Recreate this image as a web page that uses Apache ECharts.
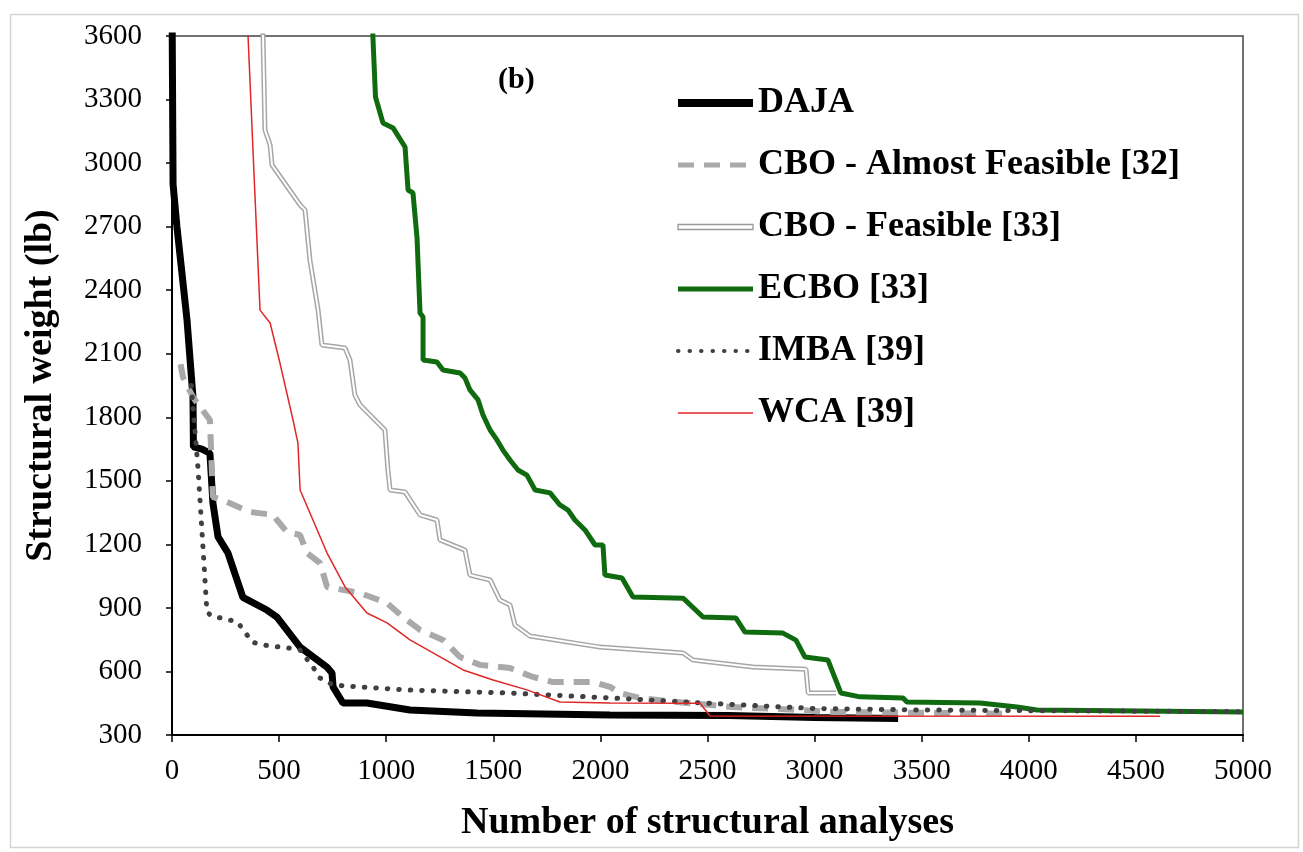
<!DOCTYPE html>
<html>
<head>
<meta charset="utf-8">
<script src="https://cdn.jsdelivr.net/npm/echarts@6/dist/echarts.min.js"></script>
<style>
  html, body { margin: 0; padding: 0; background: #fff; }
  #box { width: 1303px; height: 852px; }
</style>
</head>
<body>
<div id="box"></div>
<script>
// convergence histories: [analyses, weight (lb)]
var daja = [[0,3800],[5,2900],[23,2700],[70,2260],[98,1895],[100,1660],[140,1650],[177,1630],[191,1395],[215,1235],[261,1160],[331,950],[443,890],[490,857],[598,715],[724,620],[747,593],[752,527],[798,451],[910,451],[1111,418],[1424,404],[2045,395],[2600,392],[3000,383],[3390,378]];
var cboAlmost = [[40,2050],[51,1990],[98,1895],[177,1787],[191,1424],[257,1400],[364,1353],[472,1339],[490,1315],[537,1258],[598,1244],[630,1159],[691,1112],[724,999],[798,985],[878,970],[1004,923],[1078,857],[1158,796],[1265,749],[1345,668],[1438,631],[1578,616],[1685,574],[1779,550],[1965,550],[2045,527],[2091,498],[2185,475],[2311,460],[2619,432],[2932,418],[3086,409],[3500,405],[3900,400]];
var cboFeasible = [[420,3700],[425,3600],[434,3156],[458,3085],[467,2991],[598,2802],[621,2779],[644,2542],[682,2306],[700,2141],[808,2127],[831,2070],[854,1905],[878,1858],[994,1740],[1008,1551],[1018,1457],[1088,1447],[1158,1339],[1237,1315],[1251,1221],[1368,1173],[1391,1055],[1485,1032],[1531,937],[1578,914],[1601,819],[1671,767],[1998,715],[2386,687],[2432,654],[2712,621],[2960,610],[2970,498],[3100,498]];
var ecbo = [[935,3700],[938,3595],[950,3312],[985,3189],[1032,3166],[1088,3076],[1102,2873],[1125,2859],[1144,2646],[1158,2292],[1172,2273],[1172,2070],[1237,2061],[1265,2023],[1345,2009],[1368,1985],[1391,1929],[1429,1882],[1452,1811],[1485,1740],[1517,1693],[1545,1645],[1578,1598],[1615,1551],[1657,1527],[1695,1457],[1765,1443],[1811,1386],[1849,1362],[1881,1315],[1928,1268],[1975,1197],[2012,1197],[2021,1055],[2101,1041],[2152,951],[2386,946],[2479,857],[2633,852],[2675,786],[2852,781],[2913,748],[2955,668],[3062,654],[3123,498],[3212,480],[3413,475],[3431,456],[3772,451],[3945,432],[4038,418],[5000,409]];
var imba = [[90,1950],[110,1700],[121,1565],[150,1100],[163,880],[191,857],[250,850],[308,830],[341,786],[373,739],[425,725],[542,711],[598,701],[658,621],[691,569],[752,536],[878,527],[1111,512],[1578,498],[2045,475],[2500,450],[3000,425],[3500,418],[4000,415],[5000,410]];
var wca = [[345,3700],[355,3600],[385,2900],[411,2306],[458,2245],[504,2056],[565,1787],[588,1678],[598,1457],[658,1315],[724,1159],[808,999],[910,876],[1004,829],[1111,749],[1359,607],[1499,560],[1657,513],[1811,456],[2045,451],[2465,450],[2512,390],[4613,388]];

var serif = 'Liberation Serif, Times New Roman, serif';

var chart = echarts.init(document.getElementById('box'));
var option = {
    backgroundColor: '#fff',
    animation: false,
    textStyle: { fontFamily: serif },
    graphic: [
        { type: 'rect', left: 8, top: 12, shape: { width: 1288, height: 833 }, style: { fill: 'none', stroke: '#d4d4d4', lineWidth: 1.5 }, silent: true },
        { type: 'text', left: 498, top: 65, style: { text: '(b)', font: 'bold 30px ' + serif, fill: '#000' } }
    ],
    grid: {
        left: 172, right: 60, top: 36, bottom: 117,
        show: true, borderColor: '#444', borderWidth: 1.5
    },
    legend: {
        orient: 'vertical',
        left: 669, top: 80,
        itemWidth: 75, itemHeight: 14, itemGap: 26,
        itemStyle: { opacity: 0 },
        textStyle: { fontFamily: serif, fontWeight: 'bold', fontSize: 36, color: '#000' },
        data: [
            { name: 'DAJA', lineStyle: { width: 8 } },
            { name: 'CBO - Almost Feasible [32]', lineStyle: { width: 5 } },
            { name: 'CBO - Feasible [33]', icon: 'path://M0,0L75,0L75,5L0,5Z', itemStyle: { opacity: 1, color: '#fff', borderColor: '#999', borderWidth: 1.3 } },
            { name: 'ECBO [33]', lineStyle: { width: 5 } },
            { name: 'IMBA [39]', lineStyle: { width: 4 } },
            { name: 'WCA [39]', lineStyle: { width: 1.5 } }
        ]
    },
    xAxis: {
        type: 'value', min: 0, max: 5000, interval: 500,
        name: 'Number of structural analyses', nameLocation: 'middle', nameGap: 69,
        nameTextStyle: { fontFamily: serif, fontWeight: 'bold', fontSize: 38, color: '#000' },
        axisLine: { lineStyle: { color: '#000', width: 2 } },
        axisTick: { length: 7, lineStyle: { color: '#000', width: 1.5 } },
        axisLabel: { fontFamily: serif, fontSize: 29, color: '#000', margin: 22, formatter: function (v) { return String(v); } },
        splitLine: { show: false }
    },
    yAxis: {
        type: 'value', min: 300, max: 3600, interval: 300,
        name: 'Structural weight (lb)', nameLocation: 'middle', nameGap: 112,
        nameTextStyle: { fontFamily: serif, fontWeight: 'bold', fontSize: 38, color: '#000' },
        axisLine: { show: true, lineStyle: { color: '#000', width: 2 } },
        axisTick: { show: true, length: 6, lineStyle: { color: '#000', width: 1.5 } },
        axisLabel: { fontFamily: serif, fontSize: 29, color: '#000', margin: 30, formatter: function (v) { return String(v); } },
        splitLine: { show: false }
    },
    series: [
        { name: 'DAJA', type: 'line', data: daja, symbol: 'none', z: 2,
          lineStyle: { color: '#000', width: 7 }, itemStyle: { color: '#000' } },
        { name: 'CBO - Almost Feasible [32]', type: 'line', data: cboAlmost, symbol: 'none', z: 3,
          lineStyle: { color: '#a9a9a9', width: 6, type: [16, 10] }, itemStyle: { color: '#a9a9a9' } },
        { name: 'CBO - Feasible [33]', type: 'line', data: cboFeasible, symbol: 'none', z: 4,
          lineStyle: { color: '#a6a6a6', width: 5 }, itemStyle: { color: '#a6a6a6' } },
        { name: 'cboFeasibleInner', type: 'line', data: cboFeasible, symbol: 'none', z: 5,
          lineStyle: { color: '#fff', width: 2 } },
        { name: 'ECBO [33]', type: 'line', data: ecbo, symbol: 'none', z: 6,
          lineStyle: { color: '#106b10', width: 5 }, itemStyle: { color: '#106b10' } },
        { name: 'IMBA [39]', type: 'line', data: imba, symbol: 'none', z: 7,
          lineStyle: { color: '#404040', width: 5, type: [0.5, 11], cap: 'round' }, itemStyle: { color: '#404040' } },
        { name: 'WCA [39]', type: 'line', data: wca, symbol: 'none', z: 8,
          lineStyle: { color: '#e02626', width: 1.5 }, itemStyle: { color: '#e02626' } }
    ]
};
chart.setOption(option, true);
</script>
</body>
</html>
